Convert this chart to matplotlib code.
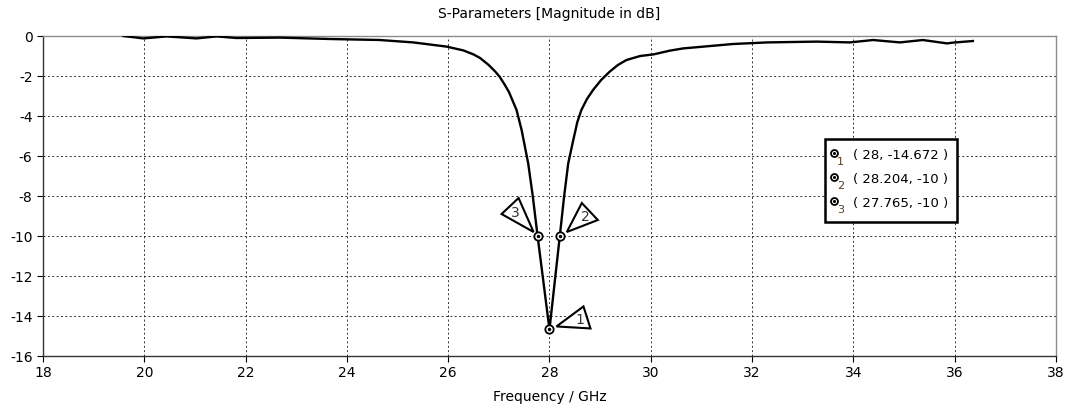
import matplotlib
matplotlib.use("Agg")
import matplotlib.pyplot as plt
from matplotlib.patches import Polygon, Rectangle
from matplotlib.transforms import IdentityTransform, ScaledTranslation

# S11 curve
freq = [19.59, 19.98, 20.44, 21.03, 21.43, 21.82, 22.68, 23.67, 24.65, 25.31,
        25.97, 26.3, 26.5, 26.63, 26.8, 26.93, 27.02, 27.12, 27.2, 27.35,
        27.45, 27.58, 27.67, 27.765, 28.0, 28.204, 28.29, 28.37, 28.47, 28.55,
        28.63, 28.74, 28.86, 29.02, 29.19, 29.35, 29.52, 29.79, 30.05, 30.38,
        30.64, 31.62, 32.3, 33.28, 33.93, 34.39, 34.92, 35.37, 35.85, 35.97,
        36.36]
s11_db = [0.0, -0.12, -0.02, -0.12, -0.02, -0.1, -0.08, -0.15, -0.2, -0.32,
          -0.53, -0.72, -0.92, -1.1, -1.45, -1.78, -2.05, -2.45, -2.8, -3.7,
          -4.7, -6.37, -8.0, -10.0, -14.672, -10.0, -8.0, -6.37, -5.2, -4.3,
          -3.7, -3.15, -2.7, -2.2, -1.78, -1.45, -1.2, -1.0, -0.92, -0.73,
          -0.62, -0.4, -0.32, -0.28, -0.32, -0.2, -0.32, -0.2, -0.37, -0.33,
          -0.25]

# markers
mark_ids = ["1", "2", "3"]
mark_f = [28.0, 28.204, 27.765]
mark_db = [-14.672, -10.0, -10.0]
mark_text = ["( 28, -14.672 )", "( 28.204, -10 )", "( 27.765, -10 )"]

xticks = list(range(18, 39, 2))
yticks = list(range(-16, 1, 2))

plt.rcParams['font.family'] = 'DejaVu Sans'
plt.rcParams['axes.unicode_minus'] = False

fig = plt.figure(figsize=(10.71, 4.12), dpi=100)
ax = fig.add_axes([0.0401, 0.1359, 0.9459, 0.7767])

ax.plot(freq, s11_db, color='black', linewidth=1.7, zorder=3)

ax.set_xlim(18, 38)
ax.set_ylim(-16, 0)
ax.set_xticks(xticks)
ax.set_yticks(yticks)
ax.tick_params(labelsize=10, length=4, width=0.8, direction='out', colors='black')
ax.grid(True, color='0.2', linestyle=(0, (2, 2.5)), linewidth=0.7)

for side in ['left', 'bottom']:
    ax.spines[side].set_color('0.2')
    ax.spines[side].set_linewidth(1.0)
for side in ['top', 'right']:
    ax.spines[side].set_color('0.55')
    ax.spines[side].set_linewidth(1.0)

ax.set_title("S-Parameters [Magnitude in dB]", fontsize=10, pad=13)
ax.set_xlabel("Frequency / GHz", fontsize=10, labelpad=7)

# marker circles on the curve
ax.plot(mark_f, mark_db, linestyle='none', marker='o', markersize=6,
        markerfacecolor='white', markeredgecolor='black', markeredgewidth=1.3,
        zorder=4)
ax.plot(mark_f, mark_db, linestyle='none', marker='o', markersize=1.5,
        color='black', zorder=5)

# triangle flags next to each marker (pixel offsets)
tri_offsets = [[(7, 3), (34, 23), (41, 1)],
               [(7, 4), (22, 33), (38, 16)],
               [(-4, 4), (-36, 22), (-19, 38)]]
label_offsets = [(30, 9), (26, 19), (-22, 23)]

fig.canvas.draw()
for mid, f, db, tri, lab in zip(mark_ids, mark_f, mark_db, tri_offsets, label_offsets):
    tr = IdentityTransform() + ScaledTranslation(f, db, ax.transData)
    poly = Polygon(tri, closed=True, facecolor='white', edgecolor='black',
                   linewidth=1.5, transform=tr, zorder=6, clip_on=False)
    ax.add_patch(poly)
    ax.text(lab[0], lab[1], mid, transform=tr, fontsize=10, color='#333333',
            ha='center', va='center', zorder=7)

# marker table box
ax.add_patch(Rectangle((0.772, 0.419), 0.130, 0.259, transform=ax.transAxes,
                       facecolor='white', edgecolor='black', linewidth=1.8,
                       zorder=8))
row_y = [0.628, 0.553, 0.478]
for mid, txt, yy in zip(mark_ids, mark_text, row_y):
    ax.plot([0.781], [yy + 0.005], transform=ax.transAxes, marker='o',
            markersize=5, markerfacecolor='white', markeredgecolor='black',
            markeredgewidth=1.3, zorder=9, clip_on=False)
    ax.plot([0.781], [yy + 0.005], transform=ax.transAxes, marker='o',
            markersize=1.2, color='black', zorder=10, clip_on=False)
    ax.text(0.784, yy - 0.022, mid, transform=ax.transAxes, fontsize=8,
            color='#5a3a1a', ha='left', va='center', zorder=10)
    ax.text(0.800, yy, txt, transform=ax.transAxes, fontsize=9.5,
            color='black', ha='left', va='center', zorder=10)

fig.savefig('out.png', dpi=100)
